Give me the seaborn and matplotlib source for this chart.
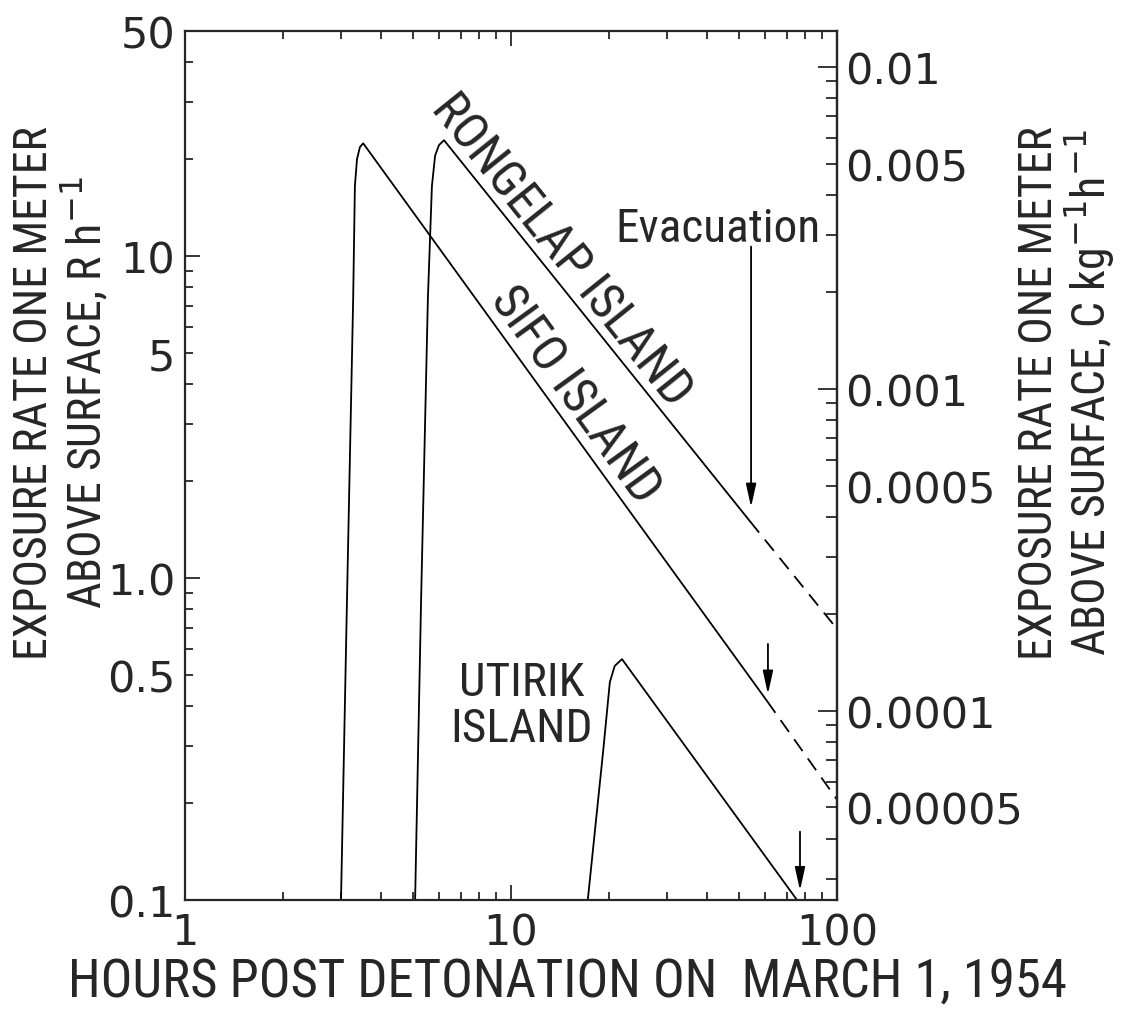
import numpy as np
import matplotlib.pyplot as plt
import pandas as pd
import seaborn as sns
from matplotlib import font_manager
from matplotlib.ticker import FixedLocator, LogLocator, FuncFormatter, NullFormatter

sns.set_style("ticks")

# condensed lettering for the hand-drawn labels, plain sans for numbers
installed = {f.name for f in font_manager.fontManager.ttflist}
narrow = [f for f in ['Roboto Condensed', 'Liberation Sans Narrow', 'Open Sans Condensed'] if f in installed]
narrow = narrow[:1] + ['DejaVu Sans']
plt.rcParams['font.family'] = ['DejaVu Sans']

''' CURVES, READ OFF THE PICTURE (HOURS, R/h)
'''
sifo_t = [3.01, 3.14, 3.28, 3.32, 3.37, 3.44, 3.52, 61.0]
sifo_r = [0.1, 0.86, 7.4, 16.5, 20.0, 21.8, 22.4, 0.415]
sifo_ext_t = [61.0, 100.0]
sifo_ext_r = [0.415, 0.205]

rong_t = [5.08, 5.30, 5.56, 5.72, 5.85, 6.01, 6.23, 54.1]
rong_r = [0.1, 0.86, 7.4, 16.5, 20.5, 22.1, 22.9, 1.50]
rong_ext_t = [54.1, 100.0]
rong_ext_r = [1.50, 0.695]

utir_t = [17.2, 19.2, 20.1, 20.8, 21.9, 75.4]
utir_r = [0.1, 0.294, 0.475, 0.533, 0.56, 0.1]

# evacuation arrows: hour, (tail, head) in R/h
evac_t = [54.5, 61.4, 77.0]
evac_tail = [10.7, 0.624, 0.163]
evac_head = [1.66, 0.436, 0.107]

# label anchors (hour, R/h)
rong_lab = (14.3, 10.5)
sifo_lab = (15.7, 3.73)
utir_lab = (10.8, 0.404)
evac_lab = (43.2, 11.1)

''' AXES TICKS
'''
x_ticks = [1, 10, 100]
x_labels = ['1', '10', '100']
r_major = [0.1, 1.0, 10]
r_major_labels = ['0.1', '1.0', '10']
r_minor_labels = {0.5: '0.5', 5: '5', 50: '50'}
c_major = [0.0001, 0.001, 0.01]
c_major_labels = ['0.0001', '0.001', '0.01']
c_minor_labels = {0.00005: '0.00005', 0.0005: '0.0005', 0.005: '0.005'}
R_TO_CKG = 2.58e-4

fig = plt.figure(figsize=(11.31, 10.2), dpi=100)
ax = fig.add_axes([185/1131, 1 - 901/1020, 652/1131, 869/1020])
ax.set_xscale('log')
ax.set_yscale('log')
ax.set_xlim(1, 100)
ax.set_ylim(0.1, 50)

lw = 1.3
for t, r in [(sifo_t, sifo_r), (rong_t, rong_r), (utir_t, utir_r)]:
    sns.lineplot(x=t, y=r, ax=ax, color='black', lw=lw, sort=False, estimator=None)
for t, r in [(sifo_ext_t, sifo_ext_r), (rong_ext_t, rong_ext_r)]:
    sns.lineplot(x=t, y=r, ax=ax, color='black', lw=lw, sort=False, estimator=None,
                 linestyle=(0, (8, 5)))

for t, a, b in zip(evac_t, evac_tail, evac_head):
    ax.annotate('', xy=(t, b), xytext=(t, a),
                arrowprops=dict(arrowstyle='-|>,head_length=1.0,head_width=0.22',
                                mutation_scale=14, color='black', lw=lw,
                                shrinkA=0, shrinkB=0))

def slope_angle(t, r):
    p1 = ax.transData.transform((t[-2], r[-2]))
    p2 = ax.transData.transform((t[-1], r[-1]))
    return np.degrees(np.arctan2(p2[1] - p1[1], p2[0] - p1[0]))

ax.text(*rong_lab, 'RONGELAP ISLAND', family=narrow, fontsize=36,
        rotation=slope_angle(rong_t, rong_r), rotation_mode='anchor', ha='center', va='center')
ax.text(*sifo_lab, 'SIFO ISLAND', family=narrow, fontsize=36,
        rotation=slope_angle(sifo_t, sifo_r), rotation_mode='anchor', ha='center', va='center')
ax.text(*utir_lab, 'UTIRIK\nISLAND', family=narrow, fontsize=34, ha='center', va='center',
        multialignment='center', linespacing=1.05)
ax.text(*evac_lab, 'Evacuation', family=narrow, fontsize=34, ha='center', va='baseline')

# left axis, R/h
ax.yaxis.set_major_locator(FixedLocator(r_major))
ax.yaxis.set_major_formatter(FuncFormatter(
    lambda v, p: r_major_labels[r_major.index(min(r_major, key=lambda m: abs(np.log10(m / v))))]))
ax.yaxis.set_minor_locator(LogLocator(base=10, subs=range(2, 10), numticks=20))
ax.yaxis.set_minor_formatter(FuncFormatter(
    lambda v, p: next((s for k, s in r_minor_labels.items() if abs(np.log10(k / v)) < 1e-3), '')))
ax.xaxis.set_major_locator(FixedLocator(x_ticks))
ax.set_xticklabels(x_labels)
ax.xaxis.set_minor_locator(LogLocator(base=10, subs=range(2, 10), numticks=20))
ax.xaxis.set_minor_formatter(NullFormatter())

ax.tick_params(axis='x', which='both', direction='in', top=True, bottom=True, pad=8)
ax.tick_params(axis='y', which='both', direction='in', left=True, right=False, pad=7)
ax.tick_params(which='major', length=11, width=1.3, labelsize=31)
ax.tick_params(which='minor', length=6, width=1.3, labelsize=31)
for s in ax.spines.values():
    s.set_linewidth(1.6)

# right axis, C kg-1 h-1
secax = ax.secondary_yaxis('right', functions=(lambda r: r * R_TO_CKG, lambda c: c / R_TO_CKG))
secax.yaxis.set_major_locator(FixedLocator(c_major))
secax.yaxis.set_major_formatter(FuncFormatter(
    lambda v, p: c_major_labels[c_major.index(min(c_major, key=lambda m: abs(np.log10(m / v))))]))
secax.yaxis.set_minor_locator(LogLocator(base=10, subs=range(2, 10), numticks=20))
secax.yaxis.set_minor_formatter(FuncFormatter(
    lambda v, p: next((s for k, s in c_minor_labels.items() if abs(np.log10(k / v)) < 1e-3), '')))
secax.tick_params(which='both', direction='in', pad=6)
secax.tick_params(which='major', length=14, width=1.3, labelsize=31)
secax.tick_params(which='minor', length=8, width=1.3, labelsize=31)
secax.spines['right'].set_linewidth(1.6)

ax.set_xlabel('HOURS POST DETONATION ON  MARCH 1, 1954', family=narrow, fontsize=38, va='top')
ax.xaxis.set_label_coords(0.586, -0.064)
ax.set_ylabel('EXPOSURE RATE ONE METER\nABOVE SURFACE, R h$^{-1}$', family=narrow, fontsize=33,
              va='center', linespacing=1.05)
ax.yaxis.set_label_coords(-0.19, 0.585)
secax.set_ylabel('EXPOSURE RATE ONE METER\nABOVE SURFACE, C kg$^{-1}$h$^{-1}$', family=narrow,
                 fontsize=33, va='center', rotation=90, linespacing=1.05)
secax.yaxis.set_label_coords(1.353, 0.585, transform=ax.transAxes)

plt.savefig('out.png', dpi=100)
